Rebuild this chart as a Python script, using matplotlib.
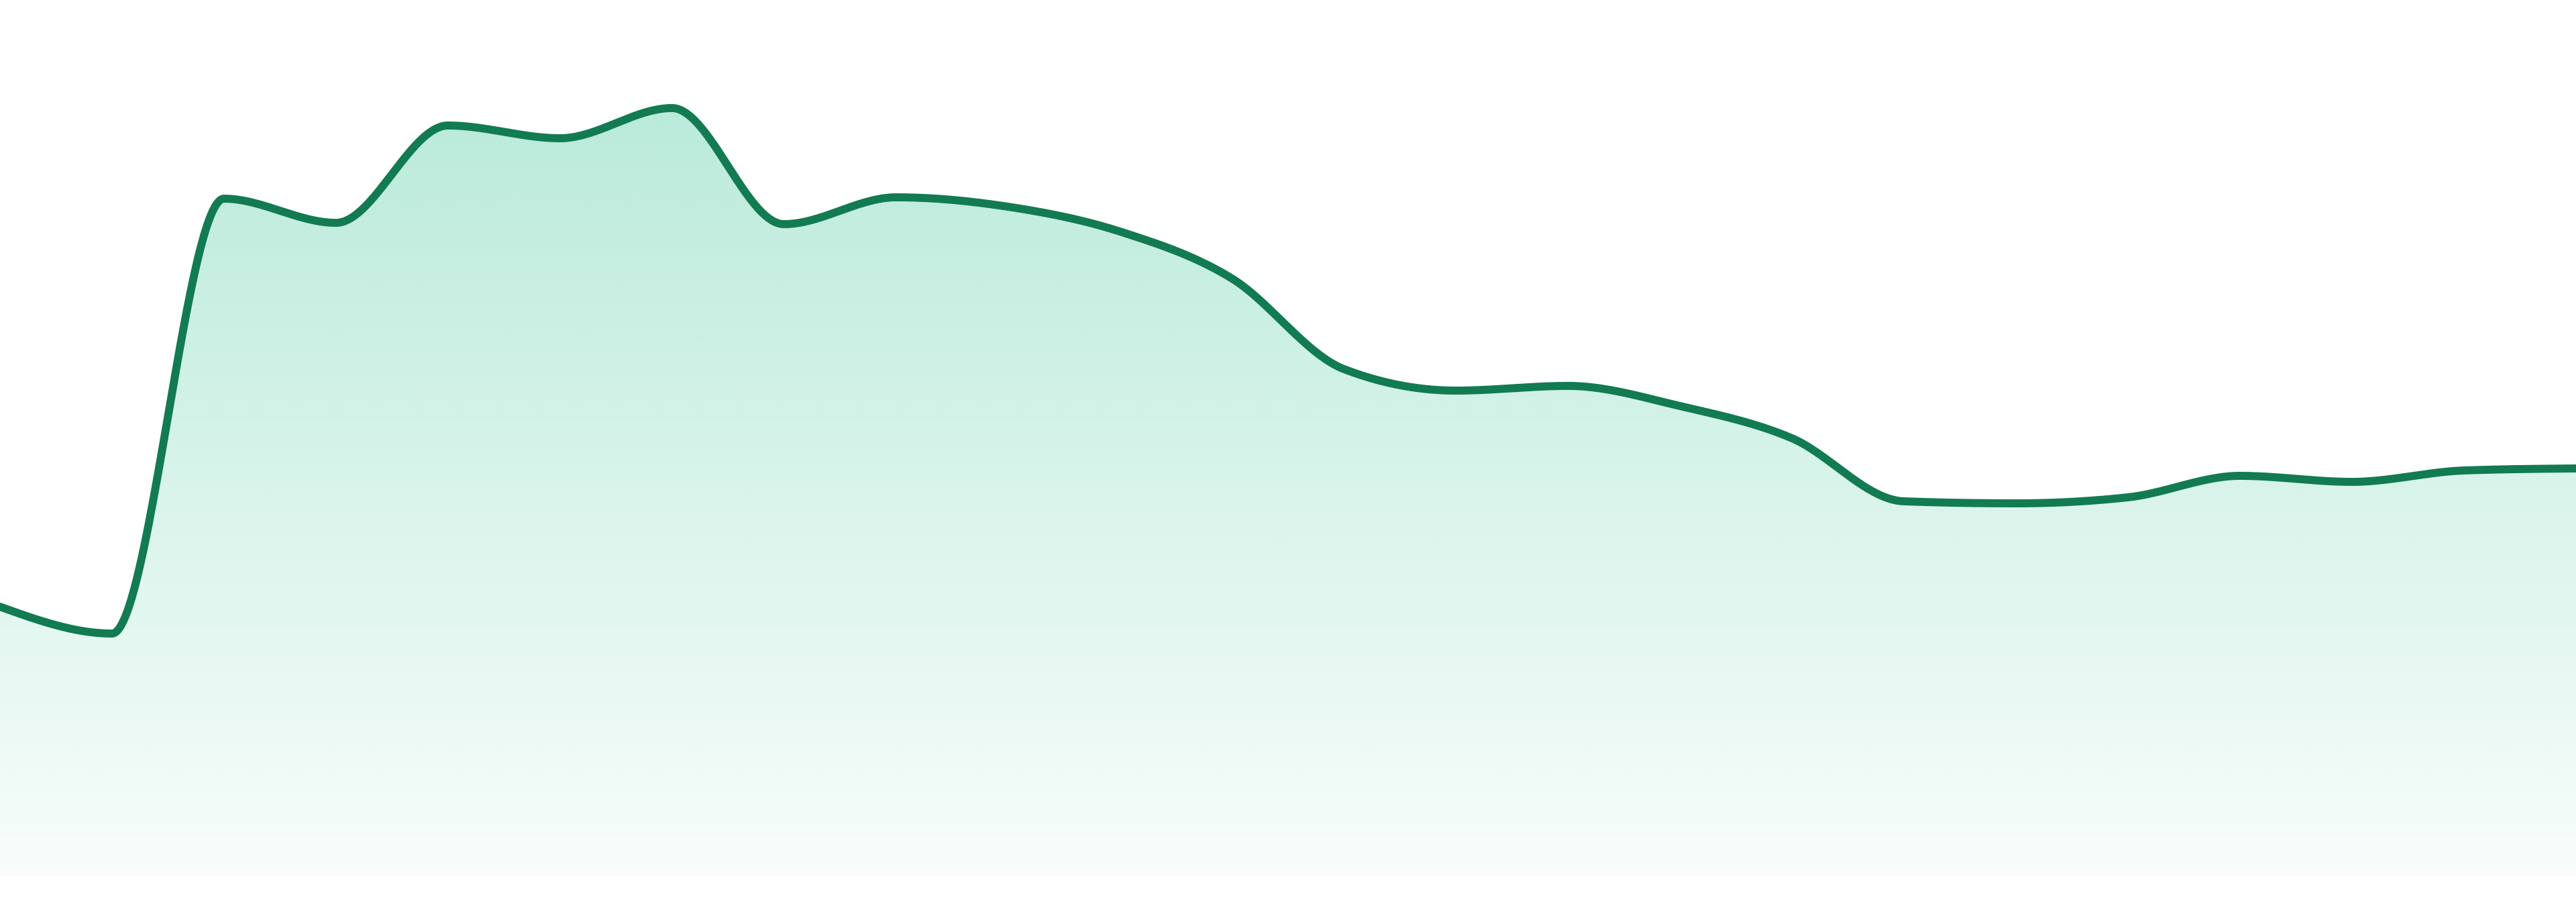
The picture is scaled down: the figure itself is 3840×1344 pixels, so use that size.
import numpy as np
import matplotlib
matplotlib.use("Agg")
import matplotlib.pyplot as plt
from matplotlib.patches import Polygon

# series values (arbitrary units, baseline at 0)
values = [40.1, 36.1, 100.9, 97.3, 111.8, 109.9, 114.4, 97.1, 101.1, 99.7,
          96.0, 89.0, 75.5, 72.3, 73.0, 70.0, 65.2, 55.8, 55.5, 56.4,
          59.6, 58.7, 60.4, 60.7]

line_color = "#127b51"
fill_rgb = (16 / 255, 185 / 255, 129 / 255)


def monotone_x(xs, ys, n=80):
    # same smoothing as d3.curveMonotoneX
    xs = np.asarray(xs, float)
    ys = np.asarray(ys, float)
    h = np.diff(xs)
    s = np.diff(ys) / h
    t = np.zeros(len(xs))
    for i in range(1, len(xs) - 1):
        h0, h1 = h[i - 1], h[i]
        s0, s1 = s[i - 1], s[i]
        p = (s0 * h1 + s1 * h0) / (h0 + h1)
        t[i] = (np.sign(s0) + np.sign(s1)) * min(abs(s0), abs(s1), 0.5 * abs(p))
    t[0] = (3 * s[0] - t[1]) / 2
    t[-1] = (3 * s[-1] - t[-2]) / 2
    out_x, out_y = [], []
    u = np.linspace(0, 1, n)
    for i in range(len(xs) - 1):
        dx = h[i] / 3
        px = [xs[i], xs[i] + dx, xs[i + 1] - dx, xs[i + 1]]
        py = [ys[i], ys[i] + dx * t[i], ys[i + 1] - dx * t[i + 1], ys[i + 1]]
        b = [(1 - u) ** 3, 3 * (1 - u) ** 2 * u, 3 * (1 - u) * u ** 2, u ** 3]
        out_x.append(sum(bi * pi for bi, pi in zip(b, px)))
        out_y.append(sum(bi * pi for bi, pi in zip(b, py)))
    return np.concatenate(out_x), np.concatenate(out_y)


x = np.arange(len(values))
sx, sy = monotone_x(x, values)

fig = plt.figure(figsize=(38.4, 13.44), dpi=100)
ax = fig.add_axes([0, 0, 1, 1])
ax.set_xlim(0, len(values) - 1)
ax.set_ylim(-3.9, 130.5)
ax.axis("off")

# gradient fill under the curve
top = max(values)
grad = np.zeros((256, 1, 4))
grad[:, 0, :3] = fill_rgb
grad[:, 0, 3] = np.linspace(0.29, 0.03, 256)
verts = np.column_stack([np.r_[sx, sx[-1], sx[0]], np.r_[sy, 0, 0]])
patch = Polygon(verts, closed=True, facecolor="none", edgecolor="none")
ax.add_patch(patch)
im = ax.imshow(grad, extent=[0, len(values) - 1, 0, top], aspect="auto",
               origin="upper", zorder=1, interpolation="bilinear")
im.set_clip_path(patch)

ax.plot(sx, sy, color=line_color, lw=8.6, solid_capstyle="round", zorder=2)

fig.savefig("out.png", dpi=100)
